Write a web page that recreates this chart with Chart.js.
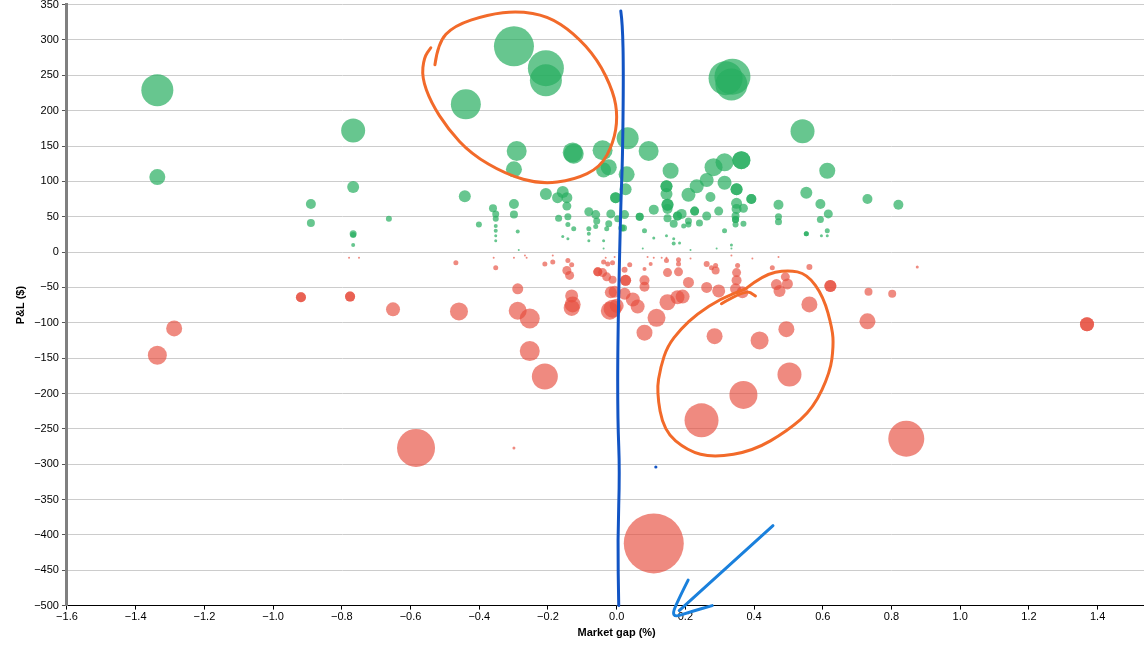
<!DOCTYPE html>
<html>
<head>
<meta charset="utf-8">
<title>P&L vs market gap</title>
<script src="https://cdn.jsdelivr.net/npm/chart.js@4.4.1/dist/chart.umd.min.js"></script>
<style>
  html, body { margin: 0; padding: 0; background: #fff; overflow: hidden; }
  #wrap { position: absolute; left: 0; top: -5px; width: 1175px; height: 662px; }
</style>
</head>
<body>
<div id="wrap"><canvas id="chart"></canvas></div>
<script>
// winners (green)
const gainX = [-1.337,-1.337,-0.767,-0.767,-0.890,-0.890,-0.663,-0.767,-0.767,-0.767,
  -0.299,-0.206,-0.206,-0.439,-0.291,-0.128,-0.125,-0.041,0.032,0.093,
  0.317,0.337,0.334,0.541,-0.299,-0.023,-0.038,0.029,0.026,-0.003,
  -0.003,0.023,0.020,0.015,0.003,-0.017,-0.023,-0.029,-0.038,-0.061,
  -0.058,-0.061,-0.081,-0.081,-0.081,-0.081,-0.125,-0.142,-0.142,-0.142,
  -0.157,-0.169,-0.145,-0.172,-0.157,-0.145,-0.206,-0.299,-0.299,-0.288,
  -0.360,-0.352,-0.352,-0.352,-0.352,-0.352,-0.352,-0.401,-0.442,-0.285,
  -0.038,0.157,0.145,0.145,0.145,0.148,0.148,0.148,0.148,0.108,
  0.067,0.067,0.081,0.108,0.145,0.166,0.166,0.183,0.166,0.177,
  0.177,0.189,0.209,0.233,0.262,0.282,0.314,0.363,0.363,0.314,
  0.349,0.349,0.273,0.392,0.392,0.349,0.349,0.369,0.346,0.346,
  0.346,0.346,0.369,0.297,0.262,0.241,0.227,0.227,0.209,0.209,
  0.195,0.314,0.334,0.334,0.291,0.215,0.076,0.471,0.471,0.471,
  0.552,0.593,0.616,0.593,0.552,0.552,0.613,0.613,0.596,0.613,
  0.730,0.820];
const gainY = [229,106,172,92,68,41,47,26,24,10,
  291,260,243,209,143,141,139,144,161,143,
  246,248,237,171,117,120,116,110,89,77,
  77,53,34,34,47,54,40,33,16,53,
  44,36,57,33,26,16,33,50,39,19,
  22,48,65,77,85,77,82,68,53,29,
  62,54,47,37,30,23,16,39,79,3,
  5,115,93,93,82,67,67,61,48,60,
  50,50,30,20,23,19,12,13,40,51,
  51,54,81,93,102,120,127,130,130,98,
  89,89,78,75,75,69,61,62,51,46,
  46,39,40,58,51,41,58,58,44,39,
  37,30,10,5,5,3,5,67,50,43,
  84,68,54,46,26,26,30,23,23,115,
  75,67];
const gainR = [16,8,12,6,5,4,3,3.5,3,2,
  20,18,16,15,10,10,10,10,11,10,
  17,18,16,12,8,8,7.5,8,6,5.5,
  5.5,4.5,3.5,3.5,3.5,4.5,3.5,2.5,1.5,4.5,
  3.5,2.5,4.5,2.5,2,1.5,2.5,3.5,2.5,1.5,
  1.5,3.5,4.5,5.5,6,5.5,6,5,4,2,
  4,3.5,3,2,2,1.5,1.5,3,6,1,
  1,8,6,6,6,6,6,5,4,5,
  4,4,2.5,1.5,1.5,1.5,2,1.5,4,4.5,
  4.5,5,7,7,7,9,9,9,9,7,
  6,6,5,5,5,5.5,5,4.5,4,3.5,
  3.5,3,3,4.5,4.5,3.5,4.5,4.5,3.5,3,
  2.5,2.5,1.5,1,1,1,1,5,3.5,3.5,
  6,5,4.5,3.5,2.5,2.5,2.5,1.5,1.5,8,
  5,5];

// losers (red)
const lossX = [-0.919,-0.919,-0.776,-0.776,-0.779,-0.750,-0.651,-1.288,-1.337,-0.584,
  0.843,1.369,1.369,0.108,-0.299,-0.253,-0.209,0.081,0.285,0.416,
  0.494,0.503,0.369,0.247,-0.468,-0.358,-0.352,-0.299,-0.267,-0.262,
  -0.288,-0.459,-0.288,-0.253,-0.209,-0.186,-0.186,-0.142,-0.131,-0.145,
  -0.137,-0.131,-0.128,-0.131,-0.055,-0.055,-0.041,-0.029,-0.038,-0.026,
  -0.012,-0.032,-0.006,-0.012,0.023,0.026,0.026,0.038,-0.017,-0.006,
  0.023,-0.020,-0.012,0.000,0.047,0.061,0.081,0.081,0.081,0.090,
  0.099,0.108,0.131,0.145,0.145,0.148,0.180,0.180,0.180,0.215,
  0.209,0.148,0.177,0.192,0.116,0.262,0.276,0.288,0.288,0.262,
  0.297,0.334,0.352,0.349,0.349,0.346,0.366,0.395,0.453,0.465,
  0.474,0.471,0.491,0.497,0.561,0.561,0.622,0.622,0.730,0.733,
  0.802,0.875];
const lossY = [-64,-64,-63,-63,-8,-8,-81,-108,-146,-277,
  -264,-102,-102,-412,-277,-140,-176,-114,-119,-125,
  -109,-173,-202,-238,-15,-8,-22,-8,-5,-8,
  -52,-84,-83,-94,-17,-14,-5,-12,-18,-26,
  -33,-62,-74,-79,-28,-28,-29,-35,-14,-17,
  -15,-8,-7,-39,-25,-40,-40,-18,-57,-56,
  -59,-83,-80,-76,-67,-77,-40,-49,-24,-7,
  -17,-8,-8,-12,-8,-29,-11,-17,-28,-9,
  -43,-71,-64,-63,-93,-17,-22,-19,-26,-50,
  -55,-5,-19,-29,-40,-52,-57,-9,-22,-46,
  -55,-7,-35,-45,-21,-74,-48,-48,-98,-56,
  -59,-21];
const lossR = [5,5,5,5,1,1,7,8,9.5,19,
  18,7,7,30,1.5,10,13,8,8,9,
  8,12,14,17,2.5,1,2.5,1,1,1,
  5.5,9,9,10,2.5,2.5,1,2.5,2.5,4.5,
  4.5,6.5,8,8,4.5,4.5,4.5,4.5,2.5,2.5,
  2.5,1,1,4,3,5.5,5.5,2.5,6,6,
  6,9,9,7,7,7,5,5,2,1,
  2,1,1,2.5,1,4.5,2.5,2.5,4.5,1,
  5.5,8,7,7,9,3,2.5,2.5,4,5.5,
  6.5,1,2.5,4.5,5,5.5,6,1,2.5,5.5,
  6,1,4.5,5.5,3,8,6,6,8,4,
  4,1.5];

// hand-drawn pen marks on the screenshot, in data units
const penLoopTop = [[-0.529,265],[-0.520,296],[-0.474,320],[-0.375,336],[-0.288,341],[-0.201,334],
  [-0.125,310],[-0.055,272],[-0.009,226],[0.003,191],[-0.009,155],[-0.047,120],[-0.125,102],
  [-0.221,96],[-0.323,110],[-0.424,139],[-0.491,174],[-0.541,212],[-0.567,247],[-0.561,275],[-0.541,289]];
const penLoopBottom = [[0.375,-52],[0.427,-32],[0.497,-25],[0.555,-31],[0.602,-63],[0.628,-109],
  [0.631,-133],[0.622,-169],[0.573,-221],[0.497,-253],[0.398,-281],[0.282,-291],[0.206,-281],
  [0.137,-253],[0.116,-197],[0.128,-162],[0.148,-133],[0.186,-109],[0.235,-87],[0.302,-66],[0.375,-52]];
const penHook = [[0.305,-73],[0.375,-53],[0.404,-62]];
const penDivider = [[0.012,341],[0.017,324],[0.020,254],[0.017,127],[0.012,71],[0.003,-126],
  [0.003,-239],[0.009,-309],[0.003,-408],[0.006,-500]];
const penArrow = [[0.455,-387],[0.182,-507]];
const penArrowHead = [[0.208,-464],[0.185,-486],[0.156,-518],[0.214,-509],[0.278,-500]];
const penDot = [0.114, -304];

const toPoints = (xs, ys, rs) => xs.map((x, i) => ({ x: x, y: ys[i], r: rs[i] }));
const minus = s => String(s).replace("-", "\u2212");

const penPlugin = {
  id: "pen",
  afterDraw(chart) {
    const ctx = chart.ctx;
    const sx = chart.scales.x, sy = chart.scales.y;
    const stroke = (pts, color, width) => {
      const p = pts.map(d => [sx.getPixelForValue(d[0]), sy.getPixelForValue(d[1])]);
      ctx.save();
      ctx.strokeStyle = color;
      ctx.lineWidth = width;
      ctx.lineCap = "round";
      ctx.lineJoin = "round";
      ctx.beginPath();
      ctx.moveTo(p[0][0], p[0][1]);
      for (let i = 1; i < p.length - 1; i++) {
        const mx = (p[i][0] + p[i + 1][0]) / 2, my = (p[i][1] + p[i + 1][1]) / 2;
        ctx.quadraticCurveTo(p[i][0], p[i][1], mx, my);
      }
      const last = p[p.length - 1];
      ctx.lineTo(last[0], last[1]);
      ctx.stroke();
      ctx.restore();
    };
    stroke(penLoopTop, "#f26a2a", 3);
    stroke(penLoopBottom, "#f26a2a", 3);
    stroke(penHook, "#f26a2a", 3);
    stroke(penDivider, "#1254c4", 3);
    stroke(penArrow, "#1a80dc", 3);
    stroke(penArrowHead, "#1a80dc", 3);
    ctx.save();
    ctx.fillStyle = "#1254c4";
    ctx.beginPath();
    ctx.arc(sx.getPixelForValue(penDot[0]), sy.getPixelForValue(penDot[1]), 1.6, 0, Math.PI * 2);
    ctx.fill();
    ctx.restore();
  }
};

Chart.defaults.font.family = "'Liberation Sans', Arial, sans-serif";
Chart.defaults.font.size = 11;
Chart.defaults.color = "#000";

new Chart(document.getElementById("chart"), {
  type: "bubble",
  data: {
    datasets: [
      {
        label: "Profit",
        data: toPoints(gainX, gainY, gainR),
        backgroundColor: "rgba(39,174,96,0.7)",
        borderWidth: 0
      },
      {
        label: "Loss",
        data: toPoints(lossX, lossY, lossR),
        backgroundColor: "rgba(231,76,60,0.65)",
        borderWidth: 0
      }
    ]
  },
  options: {
    responsive: true,
    maintainAspectRatio: false,
    animation: false,
    layout: { autoPadding: false, padding: { left: 10, right: 0, top: 0, bottom: 13 } },
    plugins: { legend: { display: false }, tooltip: { enabled: false } },
    scales: {
      x: {
        type: "linear",
        min: -1.6,
        max: 1.6,
        ticks: {
          stepSize: 0.2,
          includeBounds: false,
          padding: 1,
          maxRotation: 0,
          callback: v => minus(v.toFixed(1))
        },
        grid: { drawOnChartArea: false, tickLength: 4, tickColor: "#000" },
        border: { color: "#000", width: 1 },
        title: { display: true, text: "Market gap (%)", font: { weight: "bold" }, padding: { top: 2, bottom: 4 } }
      },
      y: {
        min: -500,
        max: 350,
        ticks: { stepSize: 50, padding: 3, callback: v => minus(v) },
        grid: { color: "#cccccc", lineWidth: 1, tickLength: 5, tickColor: "#555" },
        border: { color: "#808080", width: 3 },
        title: { display: true, text: "P&L ($)", font: { weight: "bold" }, padding: { top: 4, bottom: 4 } }
      }
    }
  },
  plugins: [penPlugin]
});
</script>
</body>
</html>
